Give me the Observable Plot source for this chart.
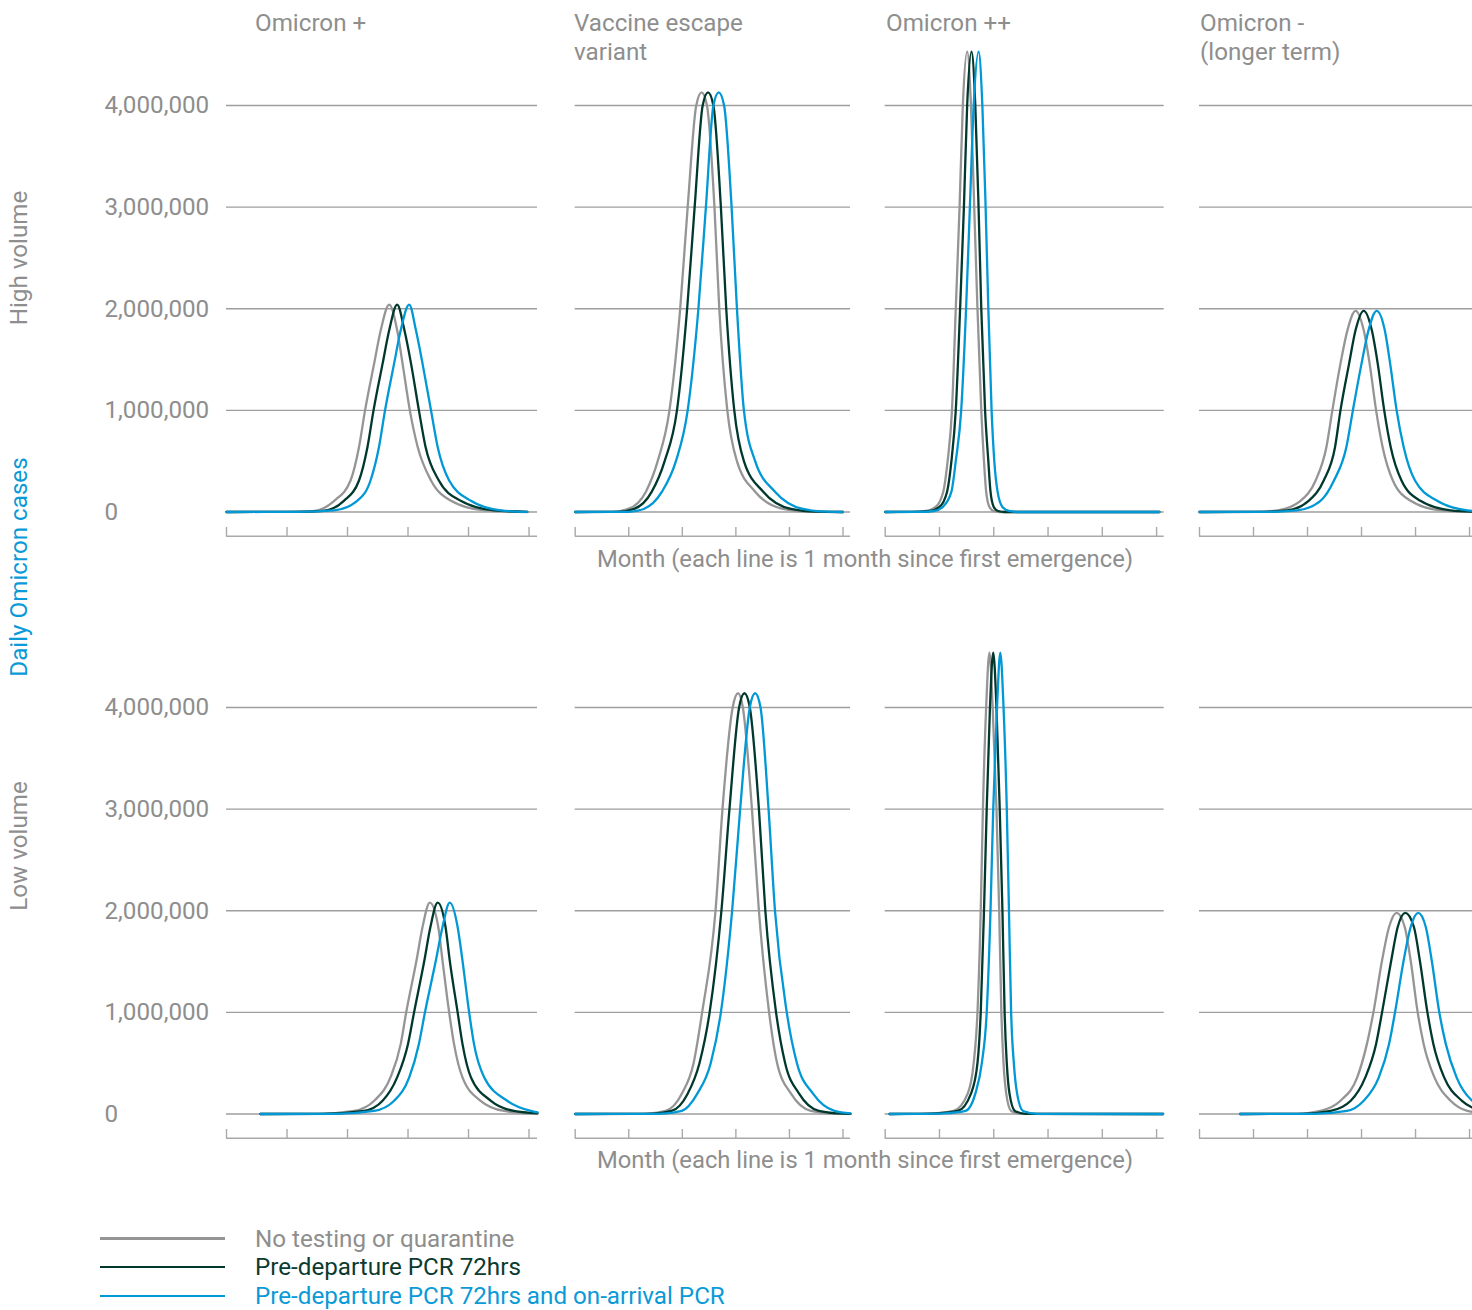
<!DOCTYPE html>
<html><head><meta charset="utf-8">
<script src="https://cdn.jsdelivr.net/npm/d3@7"></script>
<script src="https://cdn.jsdelivr.net/npm/@observablehq/plot@0.6"></script>
<style>
html,body{margin:0;padding:0;background:#fff;}
#chart{position:relative;width:1472px;height:1310px;overflow:hidden;font-family:Roboto,"Noto Sans",sans-serif;font-size:24.2px;line-height:29.5px;color:#8e8e8e;}
#chart .abs{position:absolute;white-space:pre;}
#chart .rot{position:absolute;white-space:pre;transform:translate(-50%,-50%) rotate(-90deg);}
#chart .panel{position:absolute;}
#chart .panel svg{overflow:visible;max-width:none !important;}
#chart .swatch{position:absolute;height:2.6px;}
</style></head>
<body><div id="chart"></div>
<script>
// ---------- chart values ----------
const scenarios = ["No testing or quarantine", "Pre-departure PCR 72hrs", "Pre-departure PCR 72hrs and on-arrival PCR"];
const variants = ["Omicron +", "Vaccine escape\nvariant", "Omicron ++", "Omicron -\n(longer term)"];
const volumes = ["High volume", "Low volume"];
const yTitle = "Daily Omicron cases";
const xTitle = "Month (each line is 1 month since first emergence)";
const yTicks = [0, 1, 2, 3, 4];          // millions of daily cases
const monthTicks = [0, 1, 2, 3, 4, 5];   // months since first emergence

// curves: [month, daily cases in millions], order = scenarios
const high_omicronPlus = [
  [[0,0],[1.0,0.001],[1.4,0.006],[1.78,0.11],[2.05,0.31],[2.19,0.64],[2.29,1.0],[2.44,1.46],[2.55,1.79],[2.69,2.04],[2.82,1.79],[2.91,1.46],[3.03,1.0],[3.16,0.64],[3.38,0.31],[3.71,0.11],[4.26,0.016],[4.97,0]],
  [[0,0],[1.1,0.001],[1.6,0.012],[1.94,0.11],[2.19,0.31],[2.33,0.64],[2.43,1.0],[2.58,1.46],[2.69,1.79],[2.82,2.04],[2.94,1.79],[3.05,1.46],[3.18,1.0],[3.29,0.64],[3.51,0.31],[3.87,0.11],[4.42,0.016],[4.97,0.001]],
  [[0,0],[1.2,0.001],[1.78,0.016],[2.16,0.11],[2.38,0.31],[2.52,0.64],[2.62,1.0],[2.77,1.46],[2.88,1.79],[3.02,2.04],[3.13,1.79],[3.24,1.46],[3.38,1.0],[3.49,0.64],[3.68,0.31],[4.04,0.11],[4.53,0.016],[4.97,0.001]]
];
const high_vaccineEscape = [
  [[0,0],[0.69,0.002],[0.99,0.03],[1.32,0.2],[1.54,0.5],[1.76,1.0],[1.96,2.0],[2.1,3.0],[2.26,4.0],[2.36,4.13],[2.46,4.0],[2.6,3.0],[2.69,2.0],[2.84,1.0],[3.02,0.5],[3.36,0.2],[3.88,0.03],[4.32,0.003],[5.0,0]],
  [[0,0],[0.8,0.002],[1.1,0.03],[1.43,0.2],[1.67,0.5],[1.9,1.0],[2.09,2.0],[2.23,3.0],[2.38,4.0],[2.48,4.13],[2.58,4.0],[2.72,3.0],[2.82,2.0],[2.97,1.0],[3.15,0.5],[3.51,0.2],[4.03,0.03],[4.5,0.003],[5.0,0]],
  [[0,0],[1.0,0.002],[1.28,0.03],[1.62,0.2],[1.88,0.5],[2.1,1.0],[2.3,2.0],[2.44,3.0],[2.58,4.0],[2.68,4.13],[2.78,4.0],[2.92,3.0],[3.02,2.0],[3.15,1.0],[3.36,0.5],[3.73,0.2],[4.25,0.03],[4.7,0.003],[5.0,0]]
];
const high_omicronPlusPlus = [
  [[0,0],[0.46,0.001],[0.75,0.01],[0.93,0.05],[1.07,0.2],[1.15,0.5],[1.23,1.0],[1.3,2.0],[1.37,3.0],[1.43,4.0],[1.51,4.53],[1.58,4.0],[1.64,3.0],[1.7,2.0],[1.77,1.0],[1.82,0.5],[1.86,0.2],[1.92,0.05],[2.0,0.01],[2.1,0],[5.05,0]],
  [[0,0],[0.5,0.001],[0.82,0.01],[1.0,0.05],[1.14,0.2],[1.22,0.5],[1.3,1.0],[1.38,2.0],[1.45,3.0],[1.51,4.0],[1.59,4.53],[1.66,4.0],[1.72,3.0],[1.77,2.0],[1.84,1.0],[1.9,0.5],[1.94,0.2],[2.0,0.05],[2.08,0.01],[2.2,0],[5.05,0]],
  [[0,0],[0.6,0.001],[0.9,0.01],[1.06,0.05],[1.22,0.2],[1.3,0.5],[1.4,1.0],[1.49,2.0],[1.56,3.0],[1.63,4.0],[1.72,4.53],[1.79,4.0],[1.85,3.0],[1.9,2.0],[1.96,1.0],[2.01,0.5],[2.07,0.2],[2.16,0.05],[2.28,0.01],[2.43,0],[5.05,0]]
];
const high_omicronMinus = [
  [[0,0],[1.0,0.001],[1.44,0.016],[1.87,0.11],[2.15,0.31],[2.35,0.64],[2.46,1.0],[2.61,1.46],[2.74,1.79],[2.89,1.98],[3.04,1.79],[3.15,1.46],[3.27,1.0],[3.39,0.64],[3.58,0.31],[3.91,0.11],[4.46,0.016],[5.1,0.001]],
  [[0,0],[1.1,0.001],[1.62,0.016],[2.02,0.11],[2.3,0.31],[2.51,0.64],[2.61,1.0],[2.77,1.46],[2.89,1.79],[3.04,1.98],[3.19,1.79],[3.3,1.46],[3.42,1.0],[3.54,0.64],[3.74,0.31],[4.09,0.11],[4.65,0.016],[5.1,0.002]],
  [[0,0],[1.3,0.001],[1.81,0.016],[2.24,0.11],[2.49,0.31],[2.72,0.64],[2.84,1.0],[3.0,1.46],[3.13,1.79],[3.28,1.98],[3.43,1.79],[3.53,1.46],[3.65,1.0],[3.78,0.64],[3.99,0.31],[4.4,0.11],[4.96,0.016],[5.1,0.01]]
];
const low_omicronPlus = [
  [[0.56,0],[1.5,0.001],[2.11,0.03],[2.44,0.13],[2.71,0.36],[2.88,0.69],[2.97,1.0],[3.14,1.51],[3.24,1.84],[3.36,2.08],[3.5,1.84],[3.57,1.51],[3.68,1.0],[3.76,0.69],[3.9,0.36],[4.2,0.13],[4.59,0.03],[5.14,0.004]],
  [[0.56,0],[1.6,0.001],[2.27,0.03],[2.58,0.13],[2.82,0.36],[3.0,0.69],[3.1,1.0],[3.27,1.51],[3.37,1.84],[3.49,2.08],[3.62,1.84],[3.69,1.51],[3.82,1.0],[3.9,0.69],[4.04,0.36],[4.37,0.13],[4.75,0.03],[5.14,0.007]],
  [[0.56,0],[1.8,0.001],[2.44,0.03],[2.77,0.13],[3.02,0.36],[3.18,0.69],[3.28,1.0],[3.46,1.51],[3.57,1.84],[3.69,2.08],[3.82,1.84],[3.9,1.51],[4.01,1.0],[4.09,0.69],[4.26,0.36],[4.64,0.13],[5.03,0.03],[5.14,0.016]]
];
const low_vaccineEscape = [
  [[0,0],[1.0,0.001],[1.36,0.004],[1.69,0.03],[1.99,0.2],[2.21,0.5],[2.37,1.0],[2.62,2.0],[2.75,3.0],[2.94,4.0],[3.04,4.14],[3.13,4.0],[3.3,3.0],[3.43,2.0],[3.62,1.0],[3.77,0.5],[4.03,0.2],[4.4,0.03],[4.84,0.003],[5.14,0.001]],
  [[0,0],[1.1,0.001],[1.46,0.004],[1.8,0.03],[2.1,0.2],[2.32,0.5],[2.51,1.0],[2.73,2.0],[2.88,3.0],[3.06,4.0],[3.16,4.14],[3.26,4.0],[3.43,3.0],[3.55,2.0],[3.75,1.0],[3.92,0.5],[4.18,0.2],[4.55,0.03],[5.0,0.003],[5.14,0.002]],
  [[0,0],[1.3,0.001],[1.65,0.004],[1.99,0.03],[2.28,0.2],[2.53,0.5],[2.72,1.0],[2.93,2.0],[3.08,3.0],[3.26,4.0],[3.36,4.14],[3.46,4.0],[3.61,3.0],[3.73,2.0],[3.95,1.0],[4.14,0.5],[4.44,0.2],[4.84,0.03],[5.14,0.006]]
];
const low_omicronPlusPlus = [
  [[0.08,0],[0.46,0.001],[0.9,0.006],[1.26,0.03],[1.52,0.2],[1.63,0.5],[1.7,1.0],[1.76,2.0],[1.8,3.0],[1.86,4.0],[1.92,4.54],[1.98,4.0],[2.05,3.0],[2.1,2.0],[2.14,1.0],[2.18,0.5],[2.23,0.2],[2.32,0.03],[2.5,0.002],[5.12,0]],
  [[0.08,0],[0.5,0.001],[0.95,0.006],[1.34,0.03],[1.58,0.2],[1.7,0.5],[1.76,1.0],[1.82,2.0],[1.87,3.0],[1.93,4.0],[1.99,4.54],[2.05,4.0],[2.11,3.0],[2.16,2.0],[2.2,1.0],[2.24,0.5],[2.29,0.2],[2.39,0.03],[2.58,0.002],[5.12,0]],
  [[0.08,0],[0.6,0.001],[1.1,0.006],[1.48,0.03],[1.66,0.2],[1.78,0.5],[1.87,1.0],[1.94,2.0],[1.99,3.0],[2.06,4.0],[2.12,4.54],[2.18,4.0],[2.24,3.0],[2.28,2.0],[2.32,1.0],[2.37,0.5],[2.43,0.2],[2.54,0.03],[2.8,0.002],[5.12,0]]
];
const low_omicronMinus = [
  [[0.75,0],[1.8,0.001],[2.24,0.03],[2.61,0.13],[2.92,0.36],[3.1,0.69],[3.22,1.0],[3.38,1.51],[3.51,1.84],[3.65,1.98],[3.8,1.84],[3.91,1.51],[4.04,1.0],[4.15,0.69],[4.35,0.36],[4.65,0.13],[4.96,0.03],[5.14,0.018]],
  [[0.75,0],[1.9,0.001],[2.43,0.03],[2.8,0.13],[3.07,0.36],[3.27,0.69],[3.38,1.0],[3.55,1.51],[3.67,1.84],[3.81,1.98],[3.97,1.84],[4.08,1.51],[4.22,1.0],[4.33,0.69],[4.53,0.36],[4.86,0.13],[5.14,0.04]],
  [[0.75,0],[2.1,0.001],[2.73,0.03],[3.04,0.13],[3.32,0.36],[3.51,0.69],[3.62,1.0],[3.78,1.51],[3.91,1.84],[4.05,1.98],[4.19,1.84],[4.3,1.51],[4.44,1.0],[4.56,0.69],[4.76,0.36],[5.03,0.14],[5.14,0.1]]
];
const panelCurves = [
  [high_omicronPlus, high_vaccineEscape, high_omicronPlusPlus, high_omicronMinus],
  [low_omicronPlus, low_vaccineEscape, low_omicronPlusPlus, low_omicronMinus]
];

// ---------- styling / layout ----------
const scenarioColors = ["#959595", "#00382d", "#0098d5"];
const textGray = "#8e8e8e";
const blueText = "#0a9ad7";
const gridColor = "#9e9e9e";
const axisColor = "#a9a9a9";
const cols = [
  {left: 0, marginLeft: 226, frame: 311},
  {left: 565, marginLeft: 9.7, frame: 275.3},
  {left: 875, marginLeft: 9.7, frame: 279},
  {left: 1189, marginLeft: 10, frame: 277.6}
];
const rowTop = [0, 602];
const titleLeft = [255, 574, 886, 1200];

const chart = document.getElementById("chart");
function addText(txt, cls, css) {
  const d = document.createElement("div");
  d.className = cls;
  d.textContent = txt;
  Object.assign(d.style, css);
  chart.appendChild(d);
  return d;
}

// panels
panelCurves.forEach((row, r) => {
  row.forEach((curves, c) => {
    const col = cols[c];
    const width = Math.ceil(col.marginLeft + col.frame + 4);
    const data = curves.flatMap((pts, i) => pts.map(([m, v]) => ({month: m, cases: v, scenario: scenarios[i]})));
    const marks = [
      Plot.ruleY(yTicks, {stroke: gridColor, strokeWidth: 1.3}),
      Plot.ruleY([0], {dy: 24.2, stroke: axisColor, strokeWidth: 1.4}),
      Plot.axisX(monthTicks, {anchor: "bottom", tickSize: -9, tickFormat: () => "", stroke: axisColor, strokeWidth: 1.4, label: null}),
      Plot.line(data, {x: "month", y: "cases", z: "scenario", stroke: "scenario", curve: "monotone-x", strokeWidth: 2.3})
    ];
    if (c === 0) {
      marks.push(Plot.axisY(yTicks, {anchor: "left", tickSize: 0, tickPadding: 0, textAnchor: "start", dx: -122,
        tickFormat: d => d3.format(",")(d * 1e6), fill: textGray, label: null}));
    }
    const svg = Plot.plot({
      width, height: 546,
      marginLeft: col.marginLeft, marginRight: width - col.marginLeft - col.frame,
      marginTop: 0, marginBottom: 10,
      x: {domain: [0, 5.14]},
      y: {domain: [0, 4], range: [511.5, 105], axis: c === 0 ? undefined : null},
      color: {domain: scenarios, range: scenarioColors},
      style: {fontFamily: "Roboto, 'Noto Sans', sans-serif", fontSize: "24.2px", color: textGray, background: "transparent", overflow: "visible", maxWidth: "none"},
      marks
    });
    const wrap = document.createElement("div");
    wrap.className = "panel";
    wrap.style.left = col.left + "px";
    wrap.style.top = rowTop[r] + "px";
    wrap.style.width = width + "px";
    wrap.style.height = "546px";
    wrap.appendChild(svg);
    chart.appendChild(wrap);
  });
});

// variant titles
variants.forEach((v, c) => addText(v, "abs", {left: titleLeft[c] + "px", top: "8.5px"}));
// row labels and y title
addText(volumes[0], "rot", {left: "20px", top: "258px"});
addText(volumes[1], "rot", {left: "20px", top: "846px"});
addText(yTitle, "rot", {left: "20px", top: "567px", color: blueText});
// x titles
[545, 1146].forEach(t => addText(xTitle, "abs", {left: "865px", top: t + "px", transform: "translateX(-50%)", fontSize: "23.8px"}));
// legend
const legendTextColors = [textGray, "#0b3a2f", blueText];
scenarios.forEach((s, i) => {
  const sw = document.createElement("div");
  sw.className = "swatch";
  Object.assign(sw.style, {left: "100px", width: "125px", top: (1237 + i * 28.8) + "px", background: scenarioColors[i]});
  chart.appendChild(sw);
  addText(s, "abs", {left: "255px", top: (1224.5 + i * 28.8) + "px", color: legendTextColors[i]});
});
</script></body></html>
